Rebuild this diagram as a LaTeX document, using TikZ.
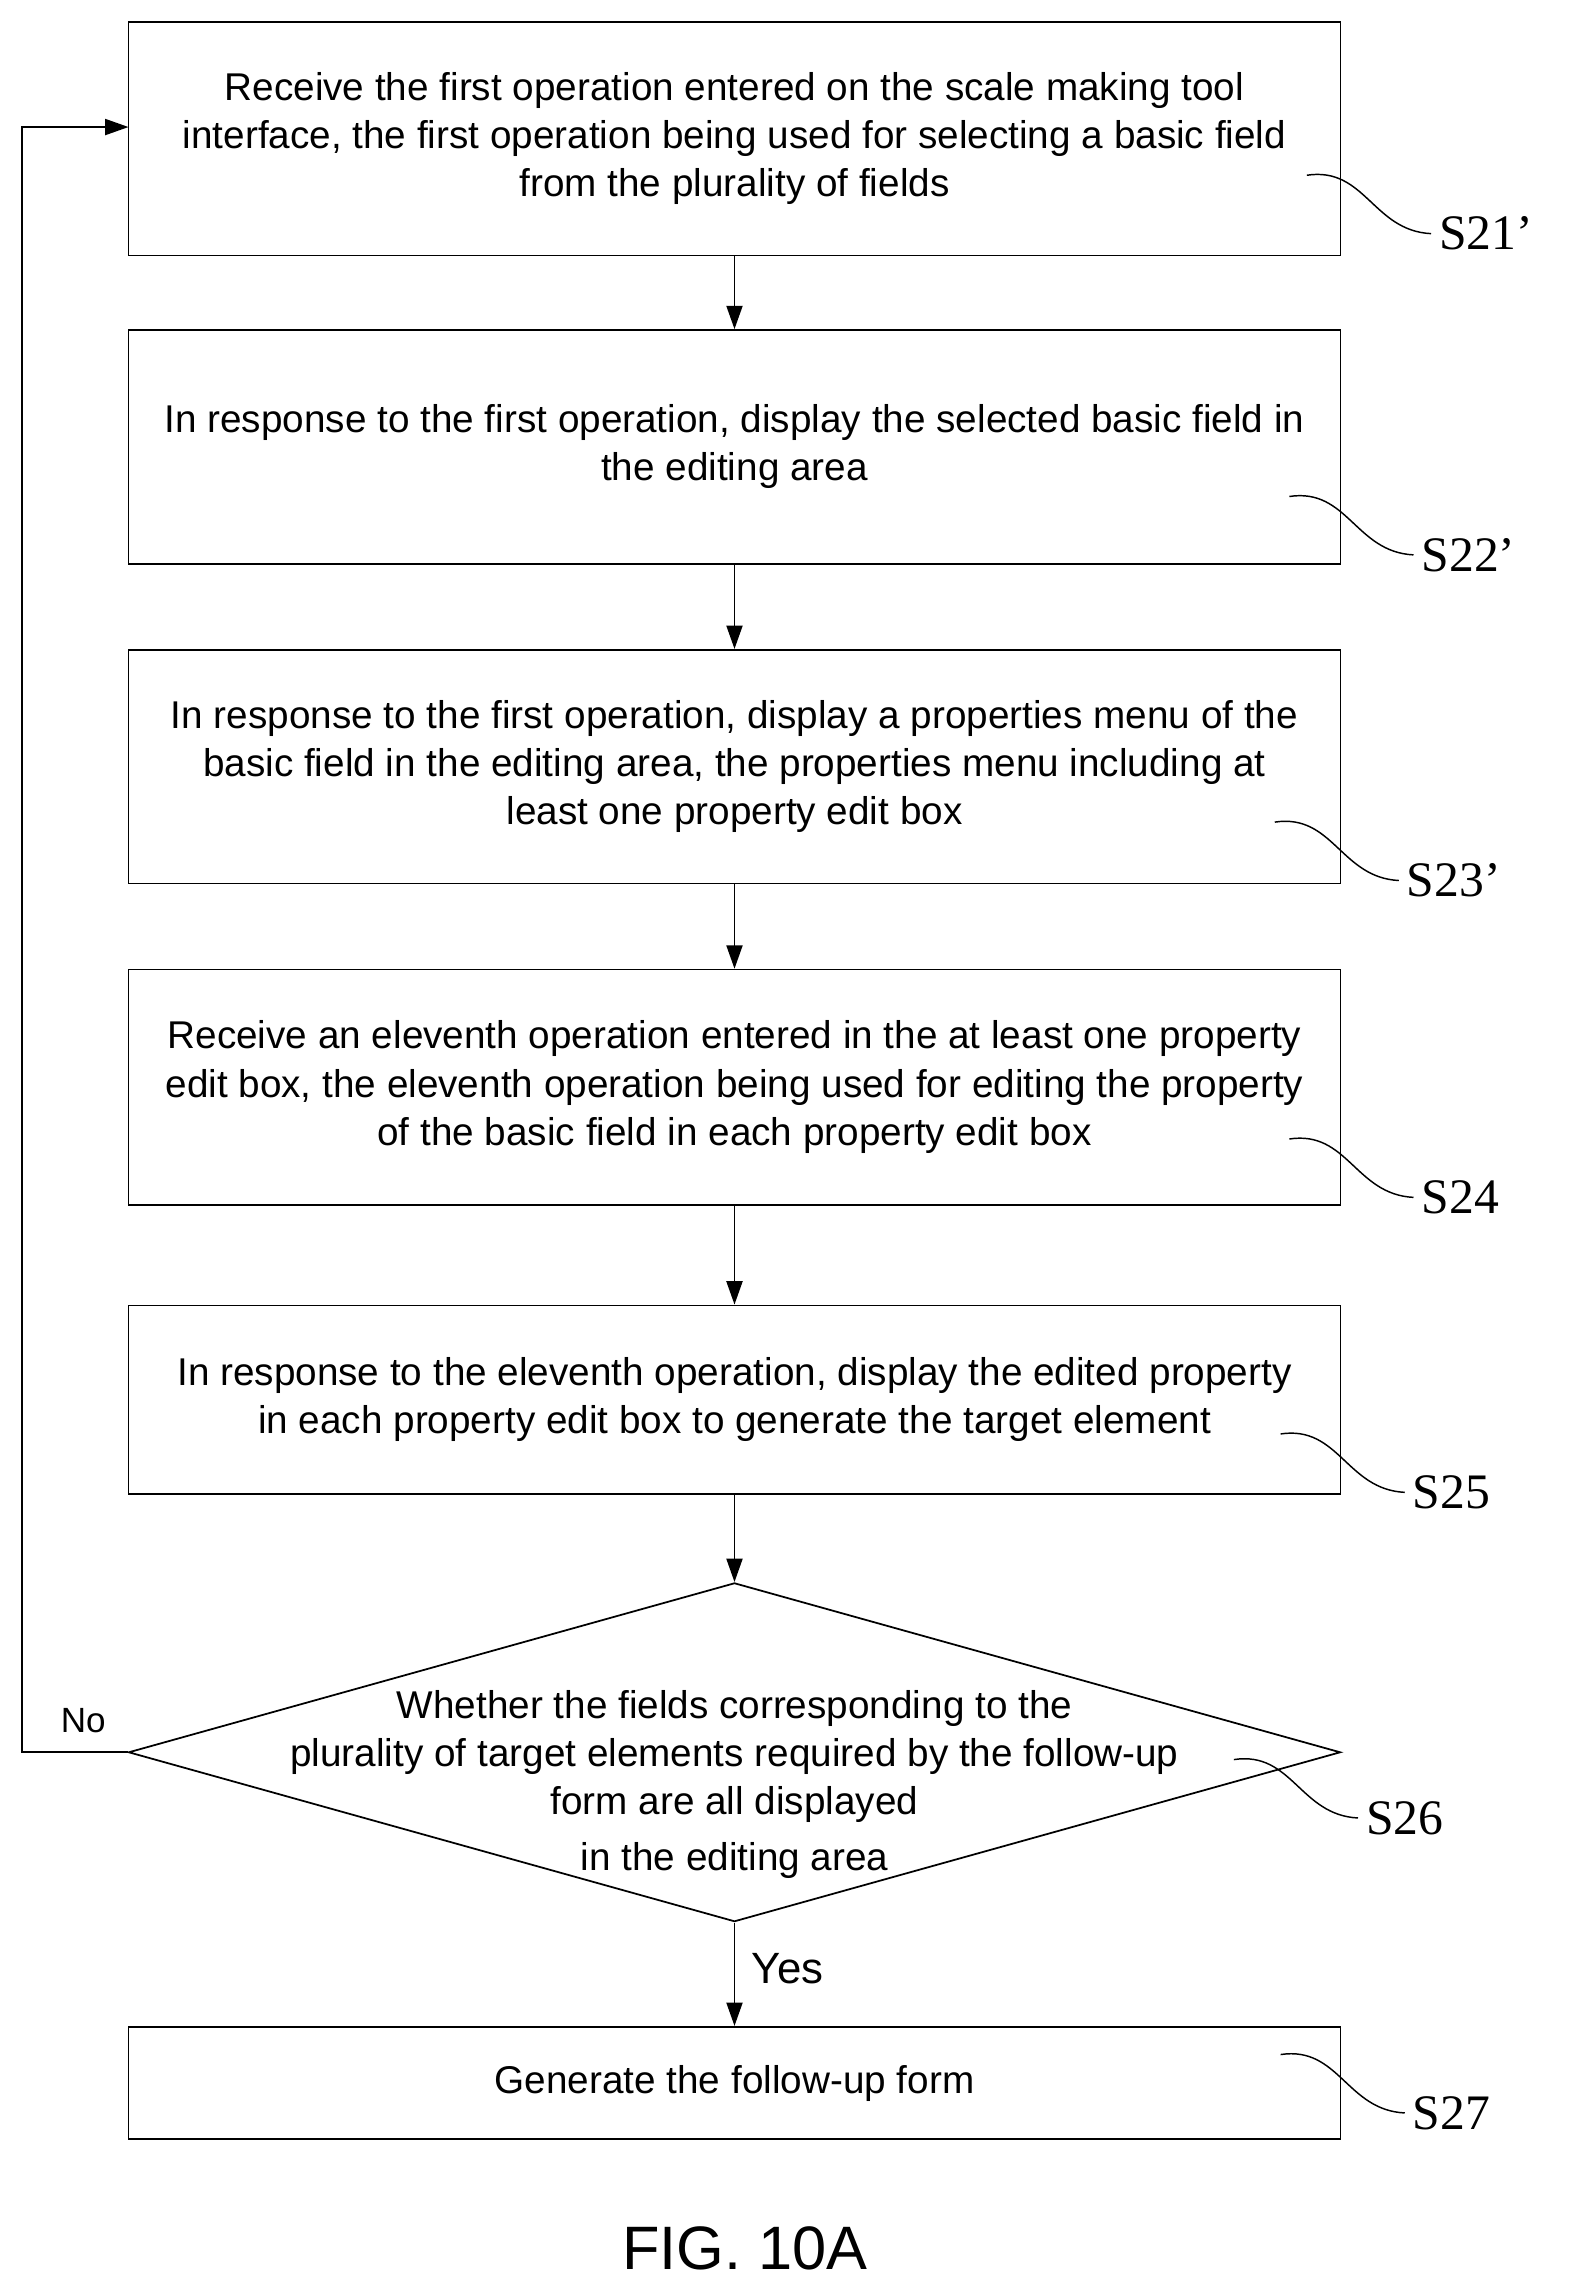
\documentclass[tikz,border=0pt]{standalone}
\usepackage{fontspec}
\setmainfont{Liberation Sans}
\newfontfamily\lblfont{Liberation Serif}
\usetikzlibrary{shapes.geometric,arrows.meta}
\begin{document}
\begin{tikzpicture}[x=1pt,y=-1pt,
  box/.style={draw,line width=1.2pt,minimum width=830pt,align=center,font=\fontsize{26.5}{33}\selectfont,inner sep=0pt},
  arr/.style={line width=1.2pt,-{Triangle[length=16pt,width=11pt]}},
  lbl/.style={font=\lblfont\fontsize{34}{34}\selectfont,anchor=west},
  cv/.style={line width=1pt}]
\useasboundingbox (0,0) rectangle (1080,1571);
\node[box,minimum height=160pt] (b1) at (503,95) {Receive the first operation entered on the scale making tool\\interface, the first operation being used for selecting a basic field\\from the plurality of fields};
\node[box,minimum height=160pt] (b2) at (503,306) {In response to the first operation, display the selected basic field in\\the editing area};
\node[box,minimum height=160pt] (b3) at (503,525) {In response to the first operation, display a properties menu of the\\basic field in the editing area, the properties menu including at\\least one property edit box};
\node[box,minimum height=161pt] (b4) at (503,744.5) {Receive an eleventh operation entered in the at least one property\\edit box, the eleventh operation being used for editing the property\\of the basic field in each property edit box};
\node[box,minimum height=129pt] (b5) at (503,958.5) {In response to the eleventh operation, display the edited property\\in each property edit box to generate the target element};
\node[draw,line width=1.2pt,diamond,minimum width=830pt,minimum height=232pt,inner sep=0pt] (d) at (503,1200) {};
\node[align=center,font=\fontsize{26.5}{33}\selectfont] (dt) at (503,1222) {Whether the fields corresponding to the\\plurality of target elements required by the follow-up\\form are all displayed\\[0.2em]in the editing area};
\node[box,minimum height=77pt] (b7) at (503,1426.5) {Generate the follow-up form};
\draw[arr] (b1) -- (b2);
\draw[arr] (b2) -- (b3);
\draw[arr] (b3) -- (b4);
\draw[arr] (b4) -- (b5);
\draw[arr] (b5) -- (d);
\draw[arr] (d.south) -- (b7) node[pos=0.45,right,font=\fontsize{30}{30}\selectfont,xshift=8pt] (yes) {Yes};
\coordinate (c1) at (15,1200);
\coordinate (c2) at (15,87);
\draw[arr] (d.west) -- (c1) -- (c2) -- (88,87);
\node[font=\fontsize{24}{24}\selectfont] (no) at (57,1178) {No};
\newcommand{\mylbl}[4]{\draw[cv] (#1,#2) .. controls (#1+40,#2-6) and (#1+45,#2+38) .. (#1+85,#2+40) coordinate (k#4);\node[lbl] (l#4) at (#1+87,#2+40) {#3};}
\mylbl{895}{120}{S21’}{1}
\mylbl{883}{340}{S22’}{2}
\mylbl{873}{563}{S23’}{3}
\mylbl{883}{780}{S24}{4}
\mylbl{877}{982}{S25}{5}
\mylbl{845}{1205}{S26}{6}
\mylbl{877}{1407}{S27}{7}
\node[font=\fontsize{42}{42}\selectfont] (cap) at (510,1540) {FIG. 10A};
\end{tikzpicture}
\end{document}
